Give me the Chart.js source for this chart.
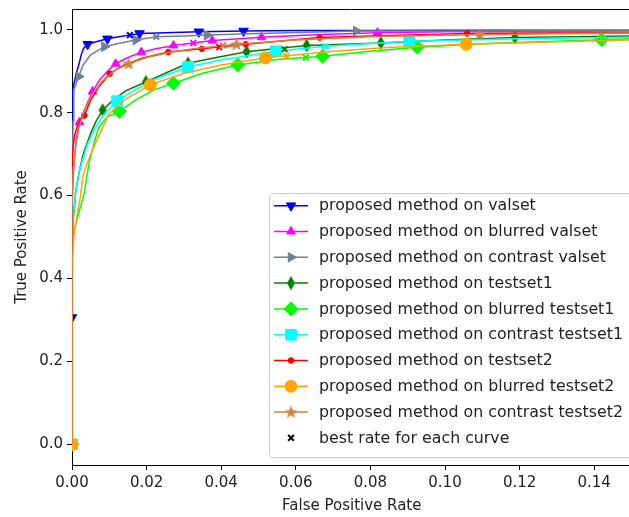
<!DOCTYPE html>
<html><head><meta charset="utf-8">
<script src="https://cdn.jsdelivr.net/npm/chart.js@4"></script>
<style>html,body{margin:0;padding:0;overflow:hidden;background:#fff}#wrap{width:640px;height:517px}</style>
</head><body><div id="wrap"><canvas id="c" width="640" height="517"></canvas></div>
<script>
const seriesLabels = ['proposed method on valset','proposed method on blurred valset','proposed method on contrast valset','proposed method on testset1','proposed method on blurred testset1','proposed method on contrast testset1','proposed method on testset2','proposed method on blurred testset2','proposed method on contrast testset2'];
const bestLabel = 'best rate for each curve';
const xTicks = [0,0.02,0.04,0.06,0.08,0.10,0.12,0.14];
const yTicks = [0,0.2,0.4,0.6,0.8,1.0];

const fprValset = [0,0,0.0003,0.001,0.0018,0.0025,0.0031,0.0042,0.006,0.0095,0.0125,0.0155,0.0181,0.025,0.034,0.046,0.06,0.08,0.1,0.12,0.15];
const tprValset = [0.306,0.84,0.86,0.89,0.915,0.94,0.955,0.965,0.970,0.978,0.983,0.987,0.991,0.993,0.995,0.997,0.998,0.998,0.999,0.999,0.999];
const marksValset = [0,7,9,12,14,15];

const fprBlurVal = [0,0,0.0004,0.0007,0.0012,0.002,0.003,0.0042,0.0055,0.0075,0.0095,0.0117,0.015,0.0186,0.0225,0.0272,0.0325,0.0376,0.0508,0.065,0.0819,0.1,0.12,0.15];
const tprBlurVal = [0,0.58,0.66,0.697,0.74,0.777,0.80,0.825,0.851,0.88,0.90,0.918,0.933,0.946,0.954,0.962,0.968,0.974,0.982,0.988,0.993,0.995,0.996,0.997];
const marksBlurVal = [0,5,8,11,13,15,17,18,20];

const fprContVal = [0,0,0.0003,0.0005,0.0018,0.003,0.0049,0.0087,0.013,0.0171,0.0226,0.03,0.0362,0.05,0.0762,0.1,0.15];
const tprContVal = [0,0.62,0.78,0.855,0.887,0.915,0.939,0.959,0.968,0.975,0.983,0.985,0.987,0.991,0.997,0.997,0.998];
const marksContVal = [0,4,7,9,12,14];

const fprTest1 = [0,0,0.0005,0.001,0.0019,0.003,0.005,0.0065,0.0082,0.011,0.0145,0.0198,0.025,0.0311,0.038,0.0468,0.055,0.0629,0.0828,0.1,0.1187,0.15];
const tprTest1 = [0,0.50,0.56,0.61,0.656,0.70,0.75,0.78,0.806,0.83,0.853,0.874,0.895,0.919,0.932,0.947,0.955,0.962,0.968,0.975,0.981,0.985];
const marksTest1 = [0,8,11,13,15,17,18,20];

const fprBlurT1 = [0,0,0.001,0.0025,0.0033,0.0046,0.006,0.0072,0.0095,0.0127,0.017,0.022,0.0272,0.035,0.0444,0.055,0.0627,0.0672,0.08,0.0926,0.11,0.13,0.142,0.15];
const tprBlurT1 = [0,0.50,0.53,0.58,0.607,0.68,0.73,0.765,0.79,0.803,0.83,0.855,0.871,0.895,0.915,0.928,0.933,0.936,0.948,0.958,0.966,0.972,0.976,0.978];
const marksBlurT1 = [0,9,12,14,17,19,22];

const fprContT1 = [0,0,0.0005,0.001,0.002,0.004,0.006,0.0085,0.0121,0.016,0.022,0.0311,0.04,0.0546,0.068,0.0904,0.12,0.15];
const tprContT1 = [0,0.50,0.56,0.61,0.66,0.72,0.76,0.795,0.828,0.85,0.88,0.91,0.927,0.948,0.960,0.972,0.978,0.982];
const marksContT1 = [0,8,11,13,15];

const fprTest2 = [0,0,0.0002,0.0007,0.0015,0.0025,0.0033,0.005,0.007,0.0101,0.014,0.019,0.0258,0.0348,0.0466,0.056,0.0664,0.085,0.1059,0.125,0.15];
const tprTest2 = [0,0.63,0.70,0.745,0.77,0.785,0.793,0.83,0.86,0.894,0.915,0.932,0.946,0.954,0.965,0.973,0.981,0.986,0.991,0.992,0.993];
const marksTest2 = [0,6,9,12,13,14,16,18];

const fprBlurT2 = [0,0,0.0005,0.0015,0.0021,0.003,0.005,0.0072,0.0099,0.014,0.021,0.03,0.04,0.0519,0.0575,0.07,0.0857,0.1057,0.13,0.15];
const tprBlurT2 = [0,0.42,0.50,0.56,0.587,0.65,0.70,0.744,0.797,0.83,0.867,0.895,0.915,0.932,0.937,0.948,0.958,0.965,0.971,0.975];
const marksBlurT2 = [0,10,13,17];

const fprContT2 = [0,0,0.0003,0.001,0.002,0.0035,0.0055,0.008,0.0115,0.0152,0.02,0.026,0.033,0.0441,0.06,0.08,0.0945,0.1093,0.13,0.15];
const tprContT2 = [0,0.55,0.66,0.72,0.77,0.81,0.845,0.875,0.902,0.918,0.933,0.945,0.955,0.965,0.975,0.983,0.986,0.988,0.99,0.992];
const marksContT2 = [9,13,17];

const bestFpr = [0.0155,0.0325,0.0226,0.057,0.0627,0.068,0.0395,0.0575,0.0405];
const bestTpr = [0.987,0.968,0.983,0.953,0.933,0.960,0.958,0.937,0.962];

const colors = ['#0000ff','#ff00ff','#708090','#008000','#00ff00','#00ffff','#ff0000','#ffa500','#cd853f'];

function thinDiamond(color){
  const c=document.createElement('canvas'); c.width=10; c.height=15;
  const g=c.getContext('2d'); g.fillStyle=color; g.beginPath();
  g.moveTo(5,0.5); g.lineTo(9,7.5); g.lineTo(5,14.5); g.lineTo(1,7.5); g.closePath(); g.fill();
  return c;
}
function starMarker(color){
  const c=document.createElement('canvas'); c.width=15; c.height=15;
  const g=c.getContext('2d'); g.fillStyle=color; g.beginPath();
  for(let i=0;i<10;i++){const r=i%2?2.9:7; const a=-Math.PI/2+i*Math.PI/5; const px=7.5+r*Math.cos(a), py=7.8+r*Math.sin(a); i?g.lineTo(px,py):g.moveTo(px,py);}
  g.closePath(); g.fill(); return c;
}

const seriesX = [fprValset,fprBlurVal,fprContVal,fprTest1,fprBlurT1,fprContT1,fprTest2,fprBlurT2,fprContT2];
const seriesY = [tprValset,tprBlurVal,tprContVal,tprTest1,tprBlurT1,tprContT1,tprTest2,tprBlurT2,tprContT2];
const seriesMarks = [marksValset,marksBlurVal,marksContVal,marksTest1,marksBlurT1,marksContT1,marksTest2,marksBlurT2,marksContT2];
const styles = [
  {s:'triangle',r:5.5,rot:180},{s:'triangle',r:5,rot:0},{s:'triangle',r:5.5,rot:90},
  {s:thinDiamond(colors[3]),r:5,rot:0},{s:'rectRot',r:7,rot:0},{s:'rect',r:7.5,rot:0},
  {s:'circle',r:2.8,rot:0},{s:'circle',r:6,rot:0},{s:starMarker(colors[8]),r:5,rot:0}
];

const datasets = seriesLabels.map((lab,i)=>{
  const marks = seriesMarks[i];
  return {
    label: lab,
    data: seriesX[i].map((x,j)=>({x:x,y:seriesY[i][j]})),
    showLine: true, tension: 0,
    borderColor: colors[i], backgroundColor: colors[i], borderWidth: 1.5,
    pointStyle: styles[i].s, pointRotation: styles[i].rot,
    pointRadius: c => marks.includes(c.dataIndex) ? styles[i].r : 0,
    pointHoverRadius: 0,
    pointBackgroundColor: colors[i], pointBorderColor: colors[i], pointBorderWidth: 1,
    legendRadius: styles[i].r, legendColor: colors[i],
    order: -i
  };
});
datasets.push({
  label: bestLabel,
  data: bestFpr.map((x,j)=>({x:x,y:bestTpr[j]})),
  showLine: false,
  pointStyle: 'crossRot', pointRadius: 4, pointBorderWidth: 2,
  pointBorderColor: colors.slice(), pointBackgroundColor: colors.slice(),
  legendRadius: 4, legendColor: '#000', order: -20
});

const FONT = 'DejaVu Sans';
const frame = {
  id: 'frame',
  afterDatasetsDraw(chart){
    const a = chart.chartArea, ctx = chart.ctx;
    ctx.save(); ctx.strokeStyle='#000'; ctx.lineWidth=1;
    ctx.beginPath(); ctx.moveTo(a.left, a.top+0.5); ctx.lineTo(a.right, a.top+0.5); ctx.stroke();
    ctx.restore();
  },
  afterDraw(chart){
    const ctx = chart.ctx;
    const L=269.5, T=193.5, W=363, H=264, R=3;
    ctx.save();
    ctx.beginPath();
    ctx.moveTo(L+R,T); ctx.lineTo(L+W-R,T); ctx.quadraticCurveTo(L+W,T,L+W,T+R);
    ctx.lineTo(L+W,T+H-R); ctx.quadraticCurveTo(L+W,T+H,L+W-R,T+H);
    ctx.lineTo(L+R,T+H); ctx.quadraticCurveTo(L,T+H,L,T+H-R);
    ctx.lineTo(L,T+R); ctx.quadraticCurveTo(L,T,L+R,T); ctx.closePath();
    ctx.fillStyle='rgba(255,255,255,0.8)'; ctx.fill();
    ctx.strokeStyle='#cccccc'; ctx.lineWidth=1; ctx.stroke();
    chart.data.datasets.forEach((ds,i)=>{
      const cy = 205.7 + i*25.8;
      if (ds.showLine) {
        ctx.strokeStyle = ds.legendColor; ctx.lineWidth = 1.5;
        ctx.beginPath(); ctx.moveTo(274,cy); ctx.lineTo(308,cy); ctx.stroke();
      }
      ctx.fillStyle = ds.legendColor; ctx.strokeStyle = ds.legendColor;
      ctx.lineWidth = ds.showLine ? 1 : 2;
      Chart.helpers.drawPoint(ctx, {pointStyle: ds.pointStyle, rotation: ds.pointRotation||0, radius: ds.legendRadius, borderWidth: ds.showLine?1:2}, 291, cy);
      ctx.fillStyle='#222'; ctx.font='15.8px "'+FONT+'"'; ctx.textBaseline='middle'; ctx.textAlign='left';
      ctx.fillText(ds.label, 319, cy+0.5);
    });
    ctx.restore();
  }
};

new Chart(document.getElementById('c'), {
  type: 'scatter',
  data: { datasets: datasets },
  plugins: [frame],
  options: {
    responsive: false, animation: false, devicePixelRatio: 1,
    layout: { padding: { top: 9, right: 0, bottom: 0, left: 0 } },
    plugins: { legend: { display: false }, tooltip: { enabled: false } },
    scales: {
      x: {
        type: 'linear', min: 0, max: 0.15,
        afterBuildTicks: s => { s.ticks = xTicks.map(v=>({value:v})); },
        afterFit: s => { s.height = 52; s.paddingLeft = 0; s.paddingRight = 0; },
        ticks: { callback: v => v.toFixed(2), font: {family: FONT, size: 15}, color: '#222', padding: 4, maxRotation: 0, autoSkip: false },
        grid: { drawOnChartArea: false, drawTicks: true, tickLength: 5, color: '#000' },
        border: { color: '#000', width: 1 },
        title: { display: true, text: 'False Positive Rate', font: {family: FONT, size: 15}, color: '#222', padding: {top: 0, bottom: 2} }
      },
      y: {
        type: 'linear', min: -0.05, max: 1.05,
        afterBuildTicks: s => { s.ticks = yTicks.map(v=>({value:v})); },
        afterFit: s => { s.width = 72; s.paddingTop = 0; s.paddingBottom = 0; },
        ticks: { callback: v => v.toFixed(1), font: {family: FONT, size: 15}, color: '#222', padding: 4, autoSkip: false },
        grid: { drawOnChartArea: false, drawTicks: true, tickLength: 5, color: '#000' },
        border: { color: '#000', width: 1 },
        title: { display: true, text: 'True Positive Rate', font: {family: FONT, size: 15}, color: '#222', padding: {top: 13, bottom: 0} }
      }
    }
  }
});
</script>
</body></html>
